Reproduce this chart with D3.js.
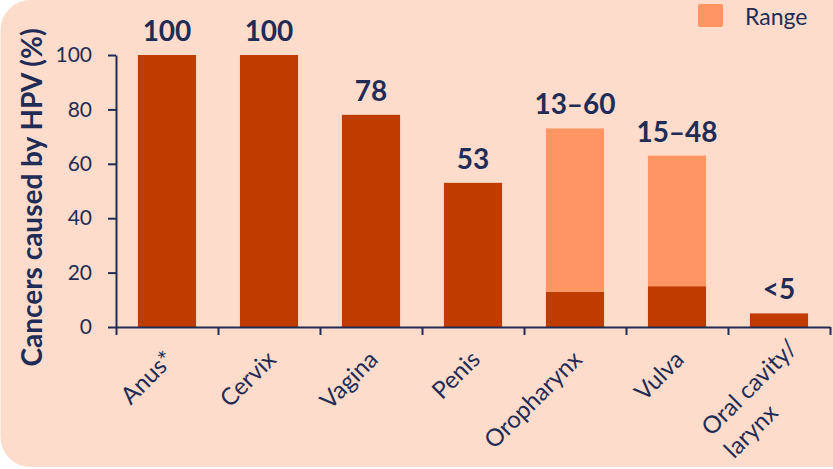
<!DOCTYPE html>
<html>
<head>
<meta charset="utf-8">
<script src="https://cdn.jsdelivr.net/npm/d3@7"></script>
<style>
  body { margin: 0; background: #ffffff; }
  svg { display: block; }
</style>
</head>
<body>
<svg id="chart" width="833" height="469"></svg>
<script>
/*
 HPV-attributable cancers, stacked bar (base + range)
*/

// data
var categories = ["Anus*", "Cervix", "Vagina", "Penis", "Oropharynx", "Vulva", "Oral cavity/\nlarynx"];
var baseValues = [100, 100, 78, 53, 13, 15, 5];
var rangeValues = [0, 0, 0, 0, 60, 48, 0];
var valueLabels = ["100", "100", "78", "53", "13\u201360", "15\u201348", "<5"];
var yTicks = [0, 20, 40, 60, 80, 100];
var legendLabel = "Range";
var yTitle = "Cancers caused by HPV (%)";

var W = 833, H = 469;
var margin = { top: 55, right: 3, bottom: 142, left: 116 };
var font = "Lato, 'Open Sans', sans-serif";
var navy = "#1f2c56";
var colors = { base: "#bf3b00", range: "#ff9563", bg: "#fedccc" };

var svg = d3.select("#chart");

// background panel with rounded corners (right side runs off the page)
svg.append("rect")
    .attr("x", 0.5).attr("y", 0)
    .attr("width", W + 40).attr("height", H - 2)
    .attr("rx", 30).attr("ry", 30)
    .attr("fill", colors.bg);

var xscale = d3.scaleBand()
    .domain(categories)
    .range([margin.left, W - margin.right])
    .paddingInner(0.43)
    .paddingOuter(0.215);

var yscale = d3.scaleLinear()
    .domain([0, 100])
    .range([H - margin.bottom, margin.top]);

// stacked series: base then range on top
var rows = categories.map((c, i) => ({ cat: c, base: baseValues[i], range: rangeValues[i] }));
var stacked = d3.stack().keys(["base", "range"])(rows);

svg.append("g")
    .selectAll("g")
    .data(stacked)
    .join("g")
    .attr("fill", s => colors[s.key])
    .selectAll("rect")
    .data(s => s.filter(d => d[1] > d[0]))
    .join("rect")
    .attr("x", d => xscale(d.data.cat))
    .attr("y", d => yscale(d[1]))
    .attr("width", xscale.bandwidth())
    .attr("height", d => yscale(d[0]) - yscale(d[1]));

// value labels above each bar
svg.append("g")
    .selectAll("text")
    .data(rows)
    .join("text")
    .attr("x", d => xscale(d.cat) + xscale.bandwidth() / 2)
    .attr("y", d => yscale(d.base + d.range) - 14)
    .attr("text-anchor", "middle")
    .attr("font-family", font)
    .attr("font-weight", "bold")
    .attr("font-size", 28)
    .attr("fill", navy)
    .text((d, i) => valueLabels[i]);

// y axis
var yAxis = svg.append("g")
    .attr("transform", `translate(${margin.left},0)`)
    .call(d3.axisLeft(yscale).tickValues(yTicks).tickSize(8).tickSizeOuter(0).tickPadding(16))
    .attr("font-family", font)
    .attr("font-size", 21);
yAxis.selectAll("path, line").attr("stroke", navy).attr("stroke-width", 2);
yAxis.selectAll("text").attr("fill", navy);

// x axis: ticks sit on the category boundaries
var bounds = d3.scaleLinear()
    .domain([0, categories.length])
    .range([margin.left, W - margin.right]);
var xAxis = svg.append("g")
    .attr("transform", `translate(0,${yscale(0)})`)
    .call(d3.axisBottom(bounds).tickValues(d3.range(categories.length + 1)).tickSize(8).tickSizeOuter(0).tickFormat(""));
xAxis.selectAll("path, line").attr("stroke", navy).attr("stroke-width", 2);

// rotated category labels
var lab = svg.append("g")
    .selectAll("g")
    .data(categories)
    .join("g")
    .attr("transform", d => `translate(${xscale(d) + xscale.bandwidth() / 2},${yscale(0)}) rotate(-45)`);

lab.each(function(d) {
    var lines = d.split("\n");
    var g = d3.select(this);
    var t = g.append("text")
        .attr("font-family", font)
        .attr("font-size", 24)
        .attr("fill", navy);
    if (lines.length == 1) {
        t.attr("text-anchor", "end").attr("x", -18).attr("y", 30).text(lines[0]);
    } else {
        // multi-line labels: left aligned lines, block shifted along the text
        var first = t.append("tspan").text(lines[0]);
        var len = first.node().getComputedTextLength();
        first.attr("x", -2 - len).attr("y", 30);
        lines.slice(1).forEach((l, k) => {
            t.append("tspan").attr("x", -2 - len).attr("y", 30 + 32 * (k + 1)).text(l);
        });
    }
});

// y axis title
svg.append("text")
    .attr("transform", `translate(42,${(30 + 365) / 2}) rotate(-90)`)
    .attr("text-anchor", "middle")
    .attr("font-family", font)
    .attr("font-weight", "bold")
    .attr("font-size", 28)
    .attr("fill", navy)
    .text(yTitle);

// legend
var leg = svg.append("g").attr("transform", "translate(698,4)");
leg.append("rect")
    .attr("width", 25).attr("height", 23)
    .attr("rx", 2)
    .attr("fill", colors.range);
leg.append("text")
    .attr("x", 47).attr("y", 21)
    .attr("font-family", font)
    .attr("font-size", 23)
    .attr("fill", navy)
    .text(legendLabel);
</script>
</body>
</html>
